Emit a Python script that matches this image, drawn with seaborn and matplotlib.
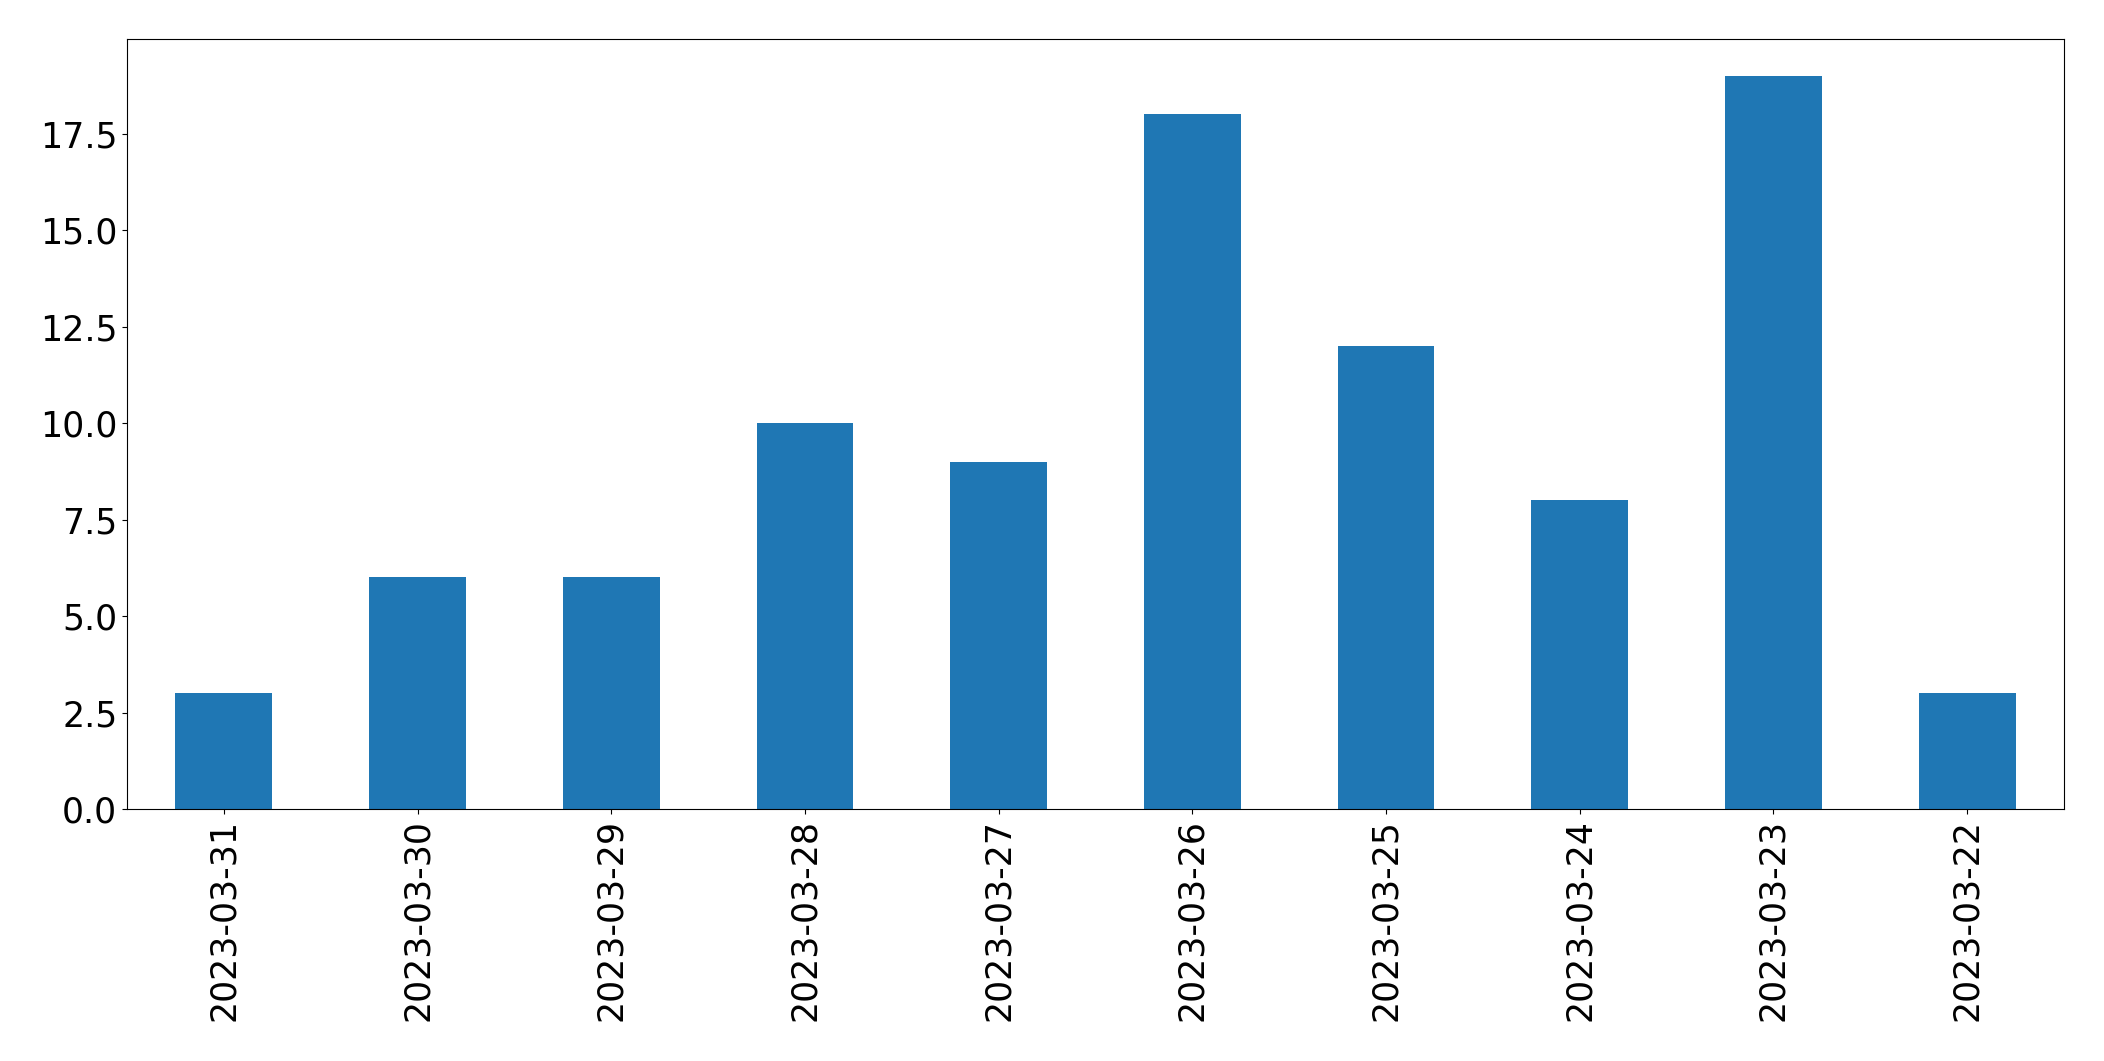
import matplotlib
matplotlib.use("Agg")
import matplotlib.pyplot as plt
import pandas as pd
import seaborn as sns

dates = ["2023-03-31", "2023-03-30", "2023-03-29", "2023-03-28", "2023-03-27",
         "2023-03-26", "2023-03-25", "2023-03-24", "2023-03-23", "2023-03-22"]
counts = [3, 6, 6, 10, 9, 18, 12, 8, 19, 3]

df = pd.DataFrame({"date": dates, "count": counts})

fig, ax = plt.subplots(figsize=(21.04, 10.61), dpi=100)
sns.barplot(data=df, x="date", y="count", order=dates, color="#1f77b4",
            saturation=1, width=0.5, linewidth=0, ax=ax)

ax.set_xlim(-0.5, len(dates) - 0.5)
ax.set_ylim(0, max(counts) * 1.05)
ax.set_yticks([0, 2.5, 5, 7.5, 10, 12.5, 15, 17.5])
ax.set_yticklabels(["0.0", "2.5", "5.0", "7.5", "10.0", "12.5", "15.0", "17.5"])
ax.tick_params(axis="x", labelrotation=90, labelsize=25)
ax.tick_params(axis="y", labelsize=25)
ax.set_xlabel("")
ax.set_ylabel("")
for s in ax.spines.values():
    s.set_color("black")

fig.subplots_adjust(left=127 / 2104, right=2064 / 2104, top=1 - 39 / 1061, bottom=1 - 809 / 1061)
fig.savefig("out.png", dpi=100)
